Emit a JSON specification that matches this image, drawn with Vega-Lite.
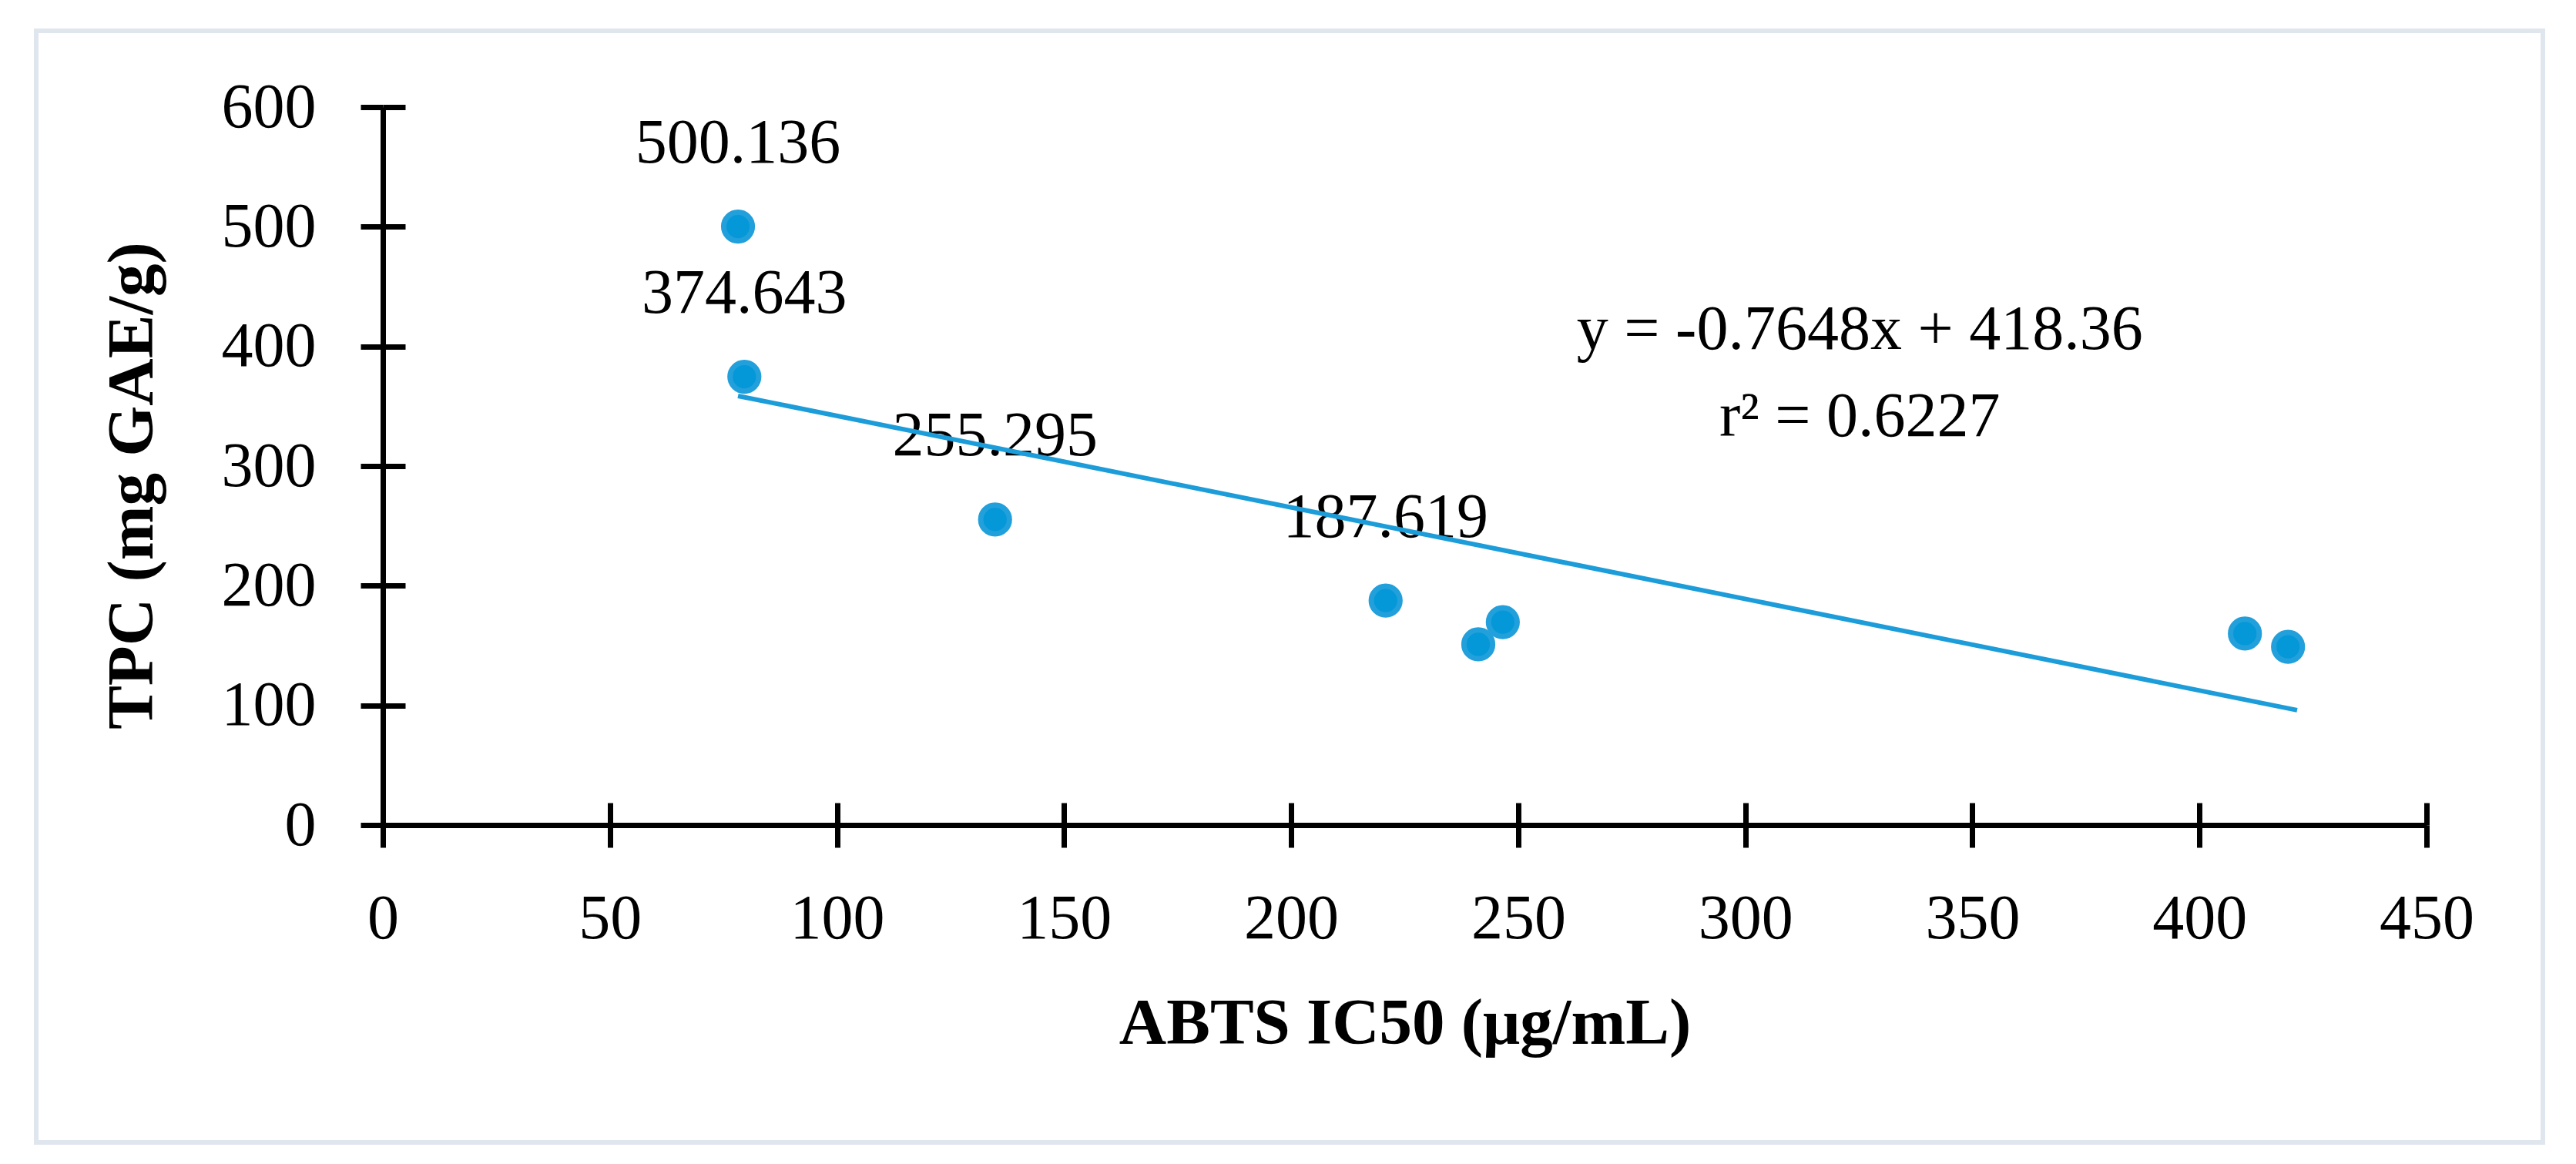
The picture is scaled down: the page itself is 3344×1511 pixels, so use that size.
{
  "$schema": "https://vega.github.io/schema/vega-lite/v6.json",
  "width": 3254,
  "height": 1443,
  "autosize": {"type": "none"},
  "padding": {"left": 47, "top": 40, "right": 43, "bottom": 28},
  "background": "#ffffff",
  "config": {
    "view": {"stroke": "#DFE6ED", "strokeWidth": 6},
    "axis": {
      "grid": false,
      "domainColor": "#000000",
      "domainWidth": 7,
      "tickColor": "#000000",
      "tickWidth": 7,
      "tickSize": 29,
      "labelFont": "Liberation Serif",
      "labelFontSize": 82,
      "labelColor": "#000000",
      "titleFont": "Liberation Serif",
      "titleFontSize": 85,
      "titleFontWeight": "bold",
      "titleColor": "#000000"
    }
  },
  "datasets": {
    "points": [
      {"abts": 78.2, "tpc": 500.136, "label": "500.136"},
      {"abts": 79.6, "tpc": 374.643, "label": "374.643"},
      {"abts": 134.8, "tpc": 255.295, "label": "255.295"},
      {"abts": 220.8, "tpc": 187.619, "label": "187.619"},
      {"abts": 241.2, "tpc": 151.0, "label": null},
      {"abts": 246.6, "tpc": 169.6, "label": null},
      {"abts": 410.0, "tpc": 160.0, "label": null},
      {"abts": 419.5, "tpc": 149.0, "label": null}
    ],
    "trend": [
      {"abts": 78.2, "tpc": 358.6},
      {"abts": 421.5, "tpc": 96.0}
    ],
    "equation": [
      {"abts": 325.2, "tpc": 398, "text": "y = -0.7648x + 418.36"},
      {"abts": 325.2, "tpc": 325, "text": "r² = 0.6227"}
    ]
  },
  "resolve": {"axis": {"x": "independent", "y": "independent"}},
  "layer": [
    {
      "data": {"name": "points"},
      "mark": {"type": "point", "shape": "circle", "filled": true, "fill": "#0498D8", "stroke": "#22A0DB", "strokeWidth": 7, "size": 1385, "opacity": 1},
      "encoding": {
        "x": {
          "field": "abts", "type": "quantitative",
          "scale": {"domain": [0, 450], "range": [450, 3103], "nice": false, "zero": false},
          "axis": {
            "orient": "bottom", "offset": -412, "values": [0, 50, 100, 150, 200, 250, 300, 350, 400, 450],
            "title": "ABTS IC50 (μg/mL)", "labelBaseline": "alphabetic", "labelPadding": 117,
            "titleBaseline": "alphabetic", "titleY": 283, "labelFlush": false, "labelOverlap": false
          }
        },
        "y": {
          "field": "tpc", "type": "quantitative",
          "scale": {"domain": [0, 600], "range": [1031, 99], "nice": false, "zero": false},
          "axis": {
            "orient": "left", "offset": -450, "values": [0, 100, 200, 300, 400, 500, 600],
            "title": "TPC (mg GAE/g)", "labelPadding": 58, "labelBaseline": "middle",
            "titleBaseline": "alphabetic", "titleX": -300, "titleY": 590, "labelFlush": false, "labelOverlap": false
          }
        }
      }
    },
    {
      "data": {"name": "points"},
      "transform": [{"filter": "isValid(datum.label)"}],
      "mark": {"type": "text", "font": "Liberation Serif", "fontSize": 82, "color": "#000000", "align": "center", "baseline": "alphabetic", "dy": -83},
      "encoding": {
        "x": {"field": "abts", "type": "quantitative", "axis": null},
        "y": {"field": "tpc", "type": "quantitative", "axis": null},
        "text": {"field": "label", "type": "nominal"}
      }
    },
    {
      "data": {"name": "trend"},
      "mark": {"type": "line", "color": "#1C9DD9", "strokeWidth": 6},
      "encoding": {
        "x": {
          "field": "abts", "type": "quantitative",
          "axis": {"orient": "bottom", "offset": -441, "values": [0, 50, 100, 150, 200, 250, 300, 350, 400, 450], "labels": false, "domain": false, "title": null}
        },
        "y": {
          "field": "tpc", "type": "quantitative",
          "axis": {"orient": "left", "offset": -479, "values": [0, 100, 200, 300, 400, 500, 600], "labels": false, "domain": false, "title": null}
        }
      }
    },
    {
      "data": {"name": "equation"},
      "mark": {"type": "text", "font": "Liberation Serif", "fontSize": 82, "color": "#000000", "align": "center", "baseline": "alphabetic"},
      "encoding": {
        "x": {"field": "abts", "type": "quantitative", "axis": null},
        "y": {"field": "tpc", "type": "quantitative", "axis": null},
        "text": {"field": "text", "type": "nominal"}
      }
    }
  ]
}
